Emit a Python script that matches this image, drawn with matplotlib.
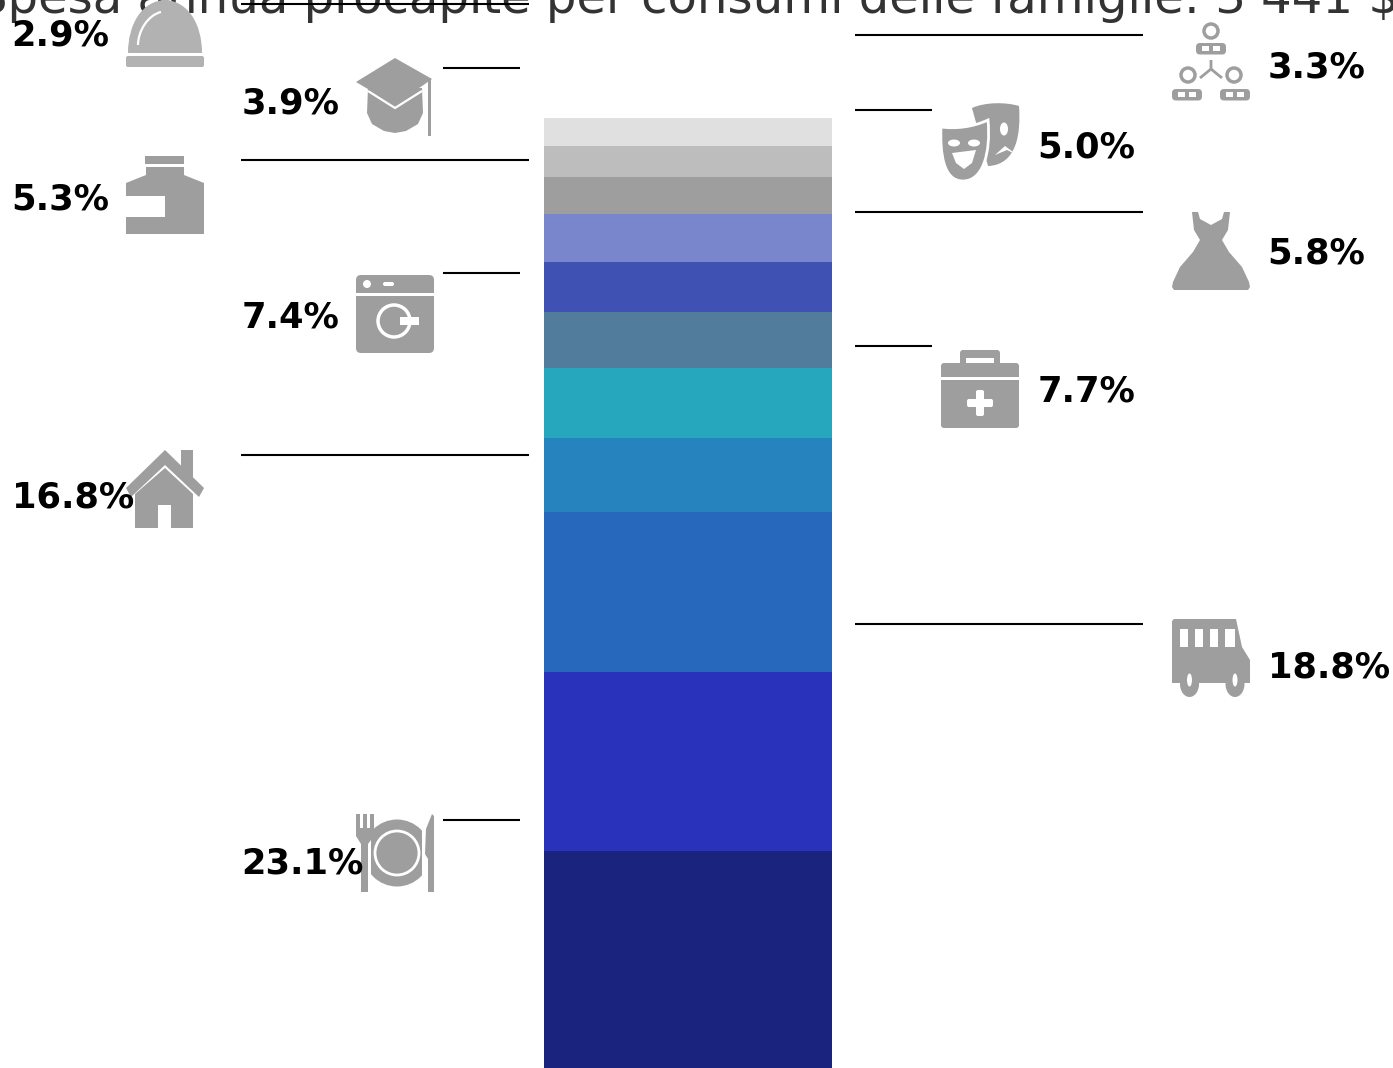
"""
Spesa annua procapite per consumi delle famiglie: stacked column with icons
"""

import matplotlib

matplotlib.use("Agg")
import matplotlib.pyplot as plt
from matplotlib.patches import Circle, Ellipse, FancyBboxPatch, PathPatch, Polygon, Rectangle
from matplotlib.path import Path
from matplotlib.transforms import Affine2D

W, H = 1393, 1068

TITLE = "Spesa annua procapite per consumi delle famiglie: 3 441 $"

# bottom to top
shares = [23.1, 18.8, 16.8, 7.7, 7.4, 5.8, 5.3, 5.0, 3.9, 3.3, 2.9]
share_labels = [f"{v:.1f}%" for v in shares]
icon_names = [
    "cutlery", "bus", "house", "medkit", "washer", "dress",
    "bottle", "masks", "hat", "people", "bell",
]
bar_colors = [
    "#1a237e", "#2832bb", "#2868bc", "#2683bd", "#26a7be", "#527c9c",
    "#3f51b3", "#7986cb", "#9e9e9e", "#bdbdbd", "#e0e0e0",
]

# layout in pixels, same order as shares
icon_x = [356, 1172, 126, 941, 356, 1172, 126, 941, 356, 1172, 126]
icon_y = [814, 619, 450, 350, 275, 212, 156, 103, 58, 22, -11]
label_x = [241.5, 1267.5, 11.5, 1037.5, 241.5, 1267.5, 11.5, 1037.5, 241.5, 1267.5, 11.5]
label_base = [874, 677, 507, 401, 327, 263, 210, 158, 114, 77, 45]

# leader lines: (x start, x end, y)
leaders = [
    (443, 520, 820), (855, 1143, 624), (241, 529, 455), (855, 932, 346),
    (443, 520, 273), (855, 1143, 212), (241, 529, 160), (855, 932, 110),
    (443, 520, 68), (855, 1143, 35), (241, 529, 4),
]

GREY = "#9e9e9e"
BELL_GREY = "#b2b2b2"

fig = plt.figure(figsize=(W / 100, H / 100), dpi=100)

# the column, y in percent points
ax = fig.add_axes([544 / W, 0, 288 / W, 1])
bottom = 0
for value, color in zip(shares, bar_colors):
    ax.bar(0, value, width=1, bottom=bottom, align="edge", color=color, linewidth=0)
    bottom += value
ax.set_xlim(0, 1)
ax.set_ylim(0.34, 112.38)
ax.axis("off")

# overlay in pixel coordinates for title, lines, icons and labels
ov = fig.add_axes([0, 0, 1, 1])
ov.set_xlim(0, W)
ov.set_ylim(H, 0)
ov.axis("off")
ov.patch.set_alpha(0)

ov.text(688, 13, TITLE, fontsize=34.7, color="#333333", ha="center", va="baseline", zorder=1)

for x0, x1, y in leaders:
    ov.plot([x0, x1], [y, y], color="black", linewidth=1.5, solid_capstyle="butt", zorder=2)


def curve(points):
    # points: move, then triples of cubic bezier control points, closed at the end
    codes = [Path.MOVETO] + [Path.CURVE4] * (len(points) - 1)
    return Path(points + [points[0]], codes + [Path.CLOSEPOLY])


def rbox(x, y, w, h, r, **kw):
    return FancyBboxPatch((x + r, y + r), w - 2 * r, h - 2 * r, boxstyle=f"round,pad={r}", **kw)


def bell(c):
    dome = curve([(2, 64), (2, 35), (16, 12), (39, 11), (62, 12), (76, 35), (76, 64)])
    yield PathPatch(dome, fc=c, lw=0)
    yield Circle((39, 6), 5, fc="white", ec=c, lw=2.5)
    yield rbox(0, 67, 78, 11, 2, fc=c, lw=0)
    yield PathPatch(
        Path([(12, 56), (12, 42), (22, 26), (35, 23)], [Path.MOVETO, Path.CURVE4, Path.CURVE4, Path.CURVE4]),
        fc="none", ec="white", lw=1.6,
    )


def hat(c):
    yield Polygon([(12, 30), (66, 30), (67, 55), (62, 66), (50, 73), (39, 75), (28, 73), (16, 66), (11, 55)],
                  fc=c, lw=0)
    yield Polygon([(39, 0), (76, 21), (39, 47), (0, 24)], fc=c, lw=0)
    yield Polygon([(12, 33), (39, 50), (66, 33)], closed=False, fc="none", ec="white", lw=1.6)
    yield Rectangle((72, 20), 3, 58, fc=c, lw=0)


def bottle(c):
    yield Rectangle((19, 0), 39, 8, fc=c, lw=0)
    yield Polygon([(20, 11), (58, 11), (58, 19), (78, 27), (78, 78), (0, 78), (0, 27), (20, 19)], fc=c, lw=0)
    yield Rectangle((0, 40), 39, 21, fc="white", lw=0)


def washer(c):
    yield rbox(0, 0, 78, 78, 5, fc=c, lw=0)
    yield Rectangle((0, 18), 78, 3, fc="white", lw=0)
    yield Circle((11, 9), 4, fc="white", lw=0)
    yield rbox(27, 7, 11, 4, 2, fc="white", lw=0)
    yield Circle((38, 46), 16, fc="none", ec="white", lw=2.5)
    yield Rectangle((44, 42), 19, 8, fc="white", lw=0)


def house(c):
    yield Rectangle((55, 0), 12, 30, fc=c, lw=0)
    yield Polygon([(39, 0), (78, 38), (73, 47), (39, 15), (5, 47), (0, 38)], fc=c, lw=0)
    yield Polygon([(39, 18), (67, 44), (67, 78), (9, 78), (9, 44)], fc=c, lw=0)
    yield Rectangle((32, 55), 13, 23, fc="white", lw=0)


def cutlery(c):
    yield Circle((41, 39), 33.5, fc=c, lw=0)
    yield Circle((41, 39), 22, fc="none", ec="white", lw=2)
    yield Rectangle((-1, 0), 16, 78, fc="white", lw=0)
    yield Rectangle((66, 0), 14, 78, fc="white", lw=0)
    yield Polygon([(0, 0), (4, 0), (4, 14), (7, 14), (7, 0), (11, 0), (11, 14), (14, 14), (14, 0), (18, 0),
                   (18, 22), (12, 30), (12, 78), (5, 78), (5, 30), (0, 22)], fc=c, lw=0)
    yield Polygon([(76, 0), (78, 2), (78, 78), (72, 78), (72, 45), (69, 40), (70, 15)], fc=c, lw=0)


def people(c):
    for cx, cy in [(39, 9), (16, 53), (62, 53)]:
        yield Circle((cx, cy), 7, fc="white", ec=c, lw=2.5)
    for bx, by in [(24, 21), (0, 67), (48, 67)]:
        yield rbox(bx, by, 30, 11.5, 4, fc=c, lw=0)
        yield Rectangle((bx + 6, by + 3), 7, 5, fc="white", lw=0)
        yield Rectangle((bx + 17, by + 3), 7, 5, fc="white", lw=0)
    yield Polygon([(39, 38), (39, 47), (28, 56)], closed=False, fc="none", ec=c, lw=2)
    yield Polygon([(39, 47), (50, 56)], closed=False, fc="none", ec=c, lw=2)


def masks(c):
    back = curve([(31, 5), (44, -1), (65, -1), (78, 3), (80, 30), (76, 62), (47, 63)])
    yield PathPatch(back, fc=c, lw=0)
    yield Ellipse((63, 26), 8, 13, fc="white", lw=0)
    yield Polygon([(54, 52), (64, 43), (76, 52), (66, 47)], fc="white", lw=0)
    front = curve([(0, 24), (15, 26), (32, 24), (47, 17), (50, 50), (42, 78), (22, 78), (2, 78), (-1, 50), (0, 24)])
    yield PathPatch(front, fc=c, ec="white", lw=2)
    yield Ellipse((13, 40), 12, 7, fc="white", lw=0)
    yield Ellipse((33, 40), 12, 7, fc="white", lw=0)
    yield Polygon([(11, 50), (35, 47), (31, 60), (23, 66), (15, 60)], fc="white", lw=0)


def dress(c):
    yield Polygon([(20, 0), (26, 0), (28, 7), (39, 13), (50, 7), (52, 0), (58, 0), (56, 18), (50, 28),
                   (57, 40), (70, 55), (77, 70), (78, 75), (76, 78), (2, 78), (0, 75), (1, 70), (8, 55),
                   (21, 40), (28, 28), (22, 18)], fc=c, lw=0)


def medkit(c):
    yield rbox(19, 0, 40, 20, 3, fc=c, lw=0)
    yield Rectangle((25, 8), 28, 5, fc="white", lw=0)
    yield rbox(0, 13, 78, 65, 3, fc=c, lw=0)
    yield Rectangle((0, 27), 78, 2.5, fc="white", lw=0)
    yield rbox(35, 40, 8, 26, 2, fc="white", lw=0)
    yield rbox(26, 49, 26, 8, 2, fc="white", lw=0)


def bus(c):
    yield Polygon([(0, 2), (2, 0), (64, 0), (70, 28), (78, 41), (78, 64), (0, 64)], fc=c, lw=0)
    for cx in [17.5, 63]:
        yield Ellipse((cx, 65), 19, 26, fc=c, lw=0)
        yield Ellipse((cx, 61), 5, 13, fc="white", lw=0)
    for wx, w2 in [(8, 8), (23, 8), (38, 8), (53, 10)]:
        yield Rectangle((wx, 10), w2, 18, fc="white", lw=0)


ICONS = {
    "bell": bell, "hat": hat, "bottle": bottle, "washer": washer, "house": house, "cutlery": cutlery,
    "people": people, "masks": masks, "dress": dress, "medkit": medkit, "bus": bus,
}

for name, x0, y0 in zip(icon_names, icon_x, icon_y):
    color = BELL_GREY if name == "bell" else GREY
    tr = Affine2D().translate(x0, y0) + ov.transData
    for patch in ICONS[name](color):
        patch.set_transform(tr)
        patch.set_zorder(3)
        ov.add_patch(patch)

for label, x, y in zip(share_labels, label_x, label_base):
    ov.text(x, y, label, fontsize=25.4, fontweight="bold", color="black", ha="left", va="baseline", zorder=5)

fig.savefig("out.png", dpi=100)
